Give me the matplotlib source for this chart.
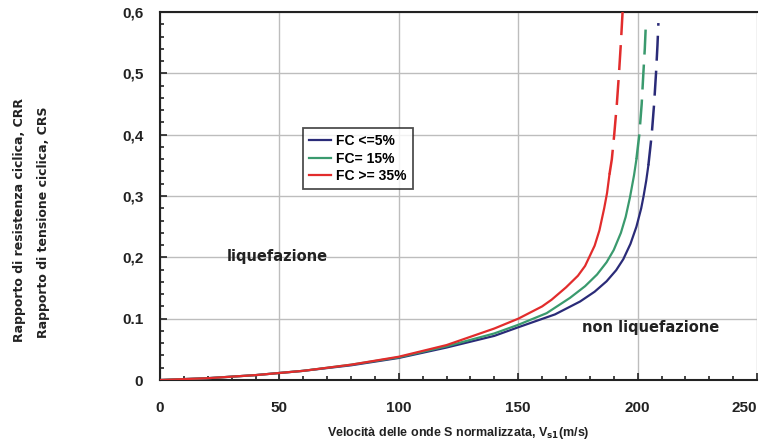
import matplotlib
matplotlib.use("Agg")
from matplotlib import pyplot as plt
from matplotlib.ticker import MultipleLocator, FixedLocator

# Vs1 (m/s) and CRR, solid part then dashed extension
fc5_v = [0, 20, 40, 60, 80, 100, 120, 140, 150, 165.4, 175.9, 182, 187, 191, 194, 197, 199.5, 201.5, 202.5, 203.6, 204.5]
fc5_crr = [0.0, 0.003, 0.008, 0.015, 0.024, 0.036, 0.053, 0.072, 0.086, 0.107, 0.128, 0.144, 0.161, 0.179, 0.197, 0.222, 0.250, 0.280, 0.300, 0.325, 0.350]
fc5_dash_v = [204.5, 205.9, 206.9, 207.7, 208.3, 208.7]
fc5_dash_crr = [0.350, 0.400, 0.450, 0.500, 0.545, 0.582]

fc15_v = [0, 20, 40, 60, 80, 100, 120, 140, 150, 161.9, 171.7, 178, 183, 187, 190, 193, 195, 196.8, 198.5, 199.5]
fc15_crr = [0.0, 0.003, 0.008, 0.015, 0.025, 0.037, 0.055, 0.076, 0.090, 0.109, 0.134, 0.153, 0.172, 0.192, 0.212, 0.240, 0.266, 0.298, 0.334, 0.360]
fc15_dash_v = [199.5, 200.7, 201.7, 202.4, 203.0, 203.4]
fc15_dash_crr = [0.360, 0.400, 0.450, 0.500, 0.540, 0.576]

fc35_v = [0, 20, 40, 60, 80, 100, 120, 140, 150, 160, 164, 170, 175, 178, 182, 184, 186, 187.2, 188.2]
fc35_crr = [0.0, 0.003, 0.008, 0.015, 0.025, 0.038, 0.057, 0.084, 0.100, 0.120, 0.131, 0.151, 0.170, 0.186, 0.219, 0.244, 0.280, 0.305, 0.335]
fc35_dash_v = [188.2, 189.2, 190.2, 191.3, 192.2, 193.0, 193.7]
fc35_dash_crr = [0.335, 0.360, 0.400, 0.450, 0.500, 0.550, 0.600]

legend_labels = ["FC <=5%", "FC= 15%", "FC >= 35%"]
x_ticks = [0, 50, 100, 150, 200, 250]
y_ticks = [0, 0.1, 0.2, 0.3, 0.4, 0.5, 0.6]
y_tick_labels = ["0", "0.1", "0,2", "0,3", "0,4", "0,5", "0,6"]

plt.rcParams["font.family"] = ["Liberation Sans", "DejaVu Sans"]
INK = "#222222"

fig = plt.figure(figsize=(7.67, 4.45), dpi=100)
ax = fig.add_axes([0.2086, 0.146, 0.7784, 0.827])

colors = ["#2a2b78", "#3a9a6e", "#e22c2c"]
series = [
    (fc5_v, fc5_crr, fc5_dash_v, fc5_dash_crr),
    (fc15_v, fc15_crr, fc15_dash_v, fc15_dash_crr),
    (fc35_v, fc35_crr, fc35_dash_v, fc35_dash_crr),
]

for (v, crr, dv, dcrr), color, label in zip(series, colors, legend_labels):
    ax.plot(v, crr, color=color, linewidth=1.6, label=label, zorder=3)
    dashed, = ax.plot(dv, dcrr, color=color, linewidth=1.8, zorder=3)
    dashed.set_dashes([10, 4])

# Styling
ax.set_xlim(0, 250)
ax.set_ylim(0, 0.6)
ax.xaxis.set_major_locator(FixedLocator(x_ticks))
ax.yaxis.set_major_locator(FixedLocator(y_ticks))
ax.set_yticklabels(y_tick_labels)
ax.xaxis.set_minor_locator(MultipleLocator(10))
ax.yaxis.set_minor_locator(MultipleLocator(0.02))
ax.tick_params(axis="both", which="both", direction="in", color=INK)
ax.tick_params(axis="both", which="major", length=5, width=1.2, labelsize=11)
ax.tick_params(axis="both", which="minor", length=3, width=1.2)
ax.tick_params(axis="x", which="both", top=False, pad=15)
ax.tick_params(axis="y", which="both", right=False, pad=12)
for lab in ax.get_xticklabels() + ax.get_yticklabels():
    lab.set_fontweight("bold")
    lab.set_color(INK)
# last x label sits on the figure edge, keep it inside
ax.get_xticklabels()[-1].set_horizontalalignment("right")
ax.get_xticklabels()[-1].set_x(252)

ax.grid(True, which="major", color="#bdbdbd", linewidth=1.0)
ax.set_axisbelow(True)
ax.spines["right"].set_visible(False)
for side in ["left", "bottom", "top"]:
    ax.spines[side].set_linewidth(1.5)
    ax.spines[side].set_color(INK)

ax.set_xlabel("Velocità delle onde S normalizzata, V$_{\\mathbf{s1}}$(m/s)",
              fontsize=9, fontweight="bold", color=INK, labelpad=7)

fig.text(0.026, 0.505, "Rapporto di resistenza ciclica, CRR", rotation=90,
         ha="center", va="center", fontsize=9, fontweight="bold", color=INK,
         family="DejaVu Sans")
fig.text(0.057, 0.50, "Rapporto di tensione ciclica, CRS", rotation=90,
         ha="center", va="center", fontsize=9, fontweight="bold", color=INK,
         family="DejaVu Sans")

ax.text(49, 0.202, "liquefazione", ha="center", va="center",
        fontsize=10.5, fontweight="bold", color=INK, family="DejaVu Sans")
ax.text(205.6, 0.086, "non liquefazione", ha="center", va="center",
        fontsize=10.5, fontweight="bold", color=INK, family="DejaVu Sans")

leg = ax.legend(loc="upper left", bbox_to_anchor=(0.2395, 0.685), borderaxespad=0,
                frameon=True, fancybox=False, edgecolor=INK, handlelength=1.6,
                handletextpad=0.35, borderpad=0.45, labelspacing=0.25,
                prop={"size": 10, "weight": "bold"})
leg.get_frame().set_linewidth(1.3)

plt.savefig("out.png", dpi=100)
